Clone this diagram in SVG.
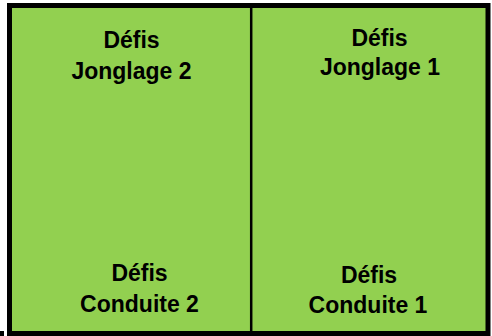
<svg xmlns="http://www.w3.org/2000/svg" width="492" height="336" viewBox="0 0 492 336">
<style>
.cell{fill:#92D050;stroke:none}
.lbl{font-family:"Liberation Sans",Arial,sans-serif;font-weight:bold;font-size:23px;fill:#000;text-anchor:middle}
</style>
<rect width="492" height="336" fill="#ffffff"/>
<g id="board">
<rect class="cell" x="9.5" y="5.5" width="478.5" height="328"/>
</g>
<g id="connectors">
<rect x="9.5" y="5.5" width="478.5" height="328" fill="none" stroke="#000" stroke-width="5"/>
<line x1="251.2" y1="5.5" x2="251.2" y2="333.5" stroke="#000" stroke-width="2.5"/>
<rect x="0" y="331" width="4" height="5" fill="#000"/>
</g>
<g id="jonglage2">
<text class="lbl" x="131.5" y="48">Défis</text>
<text class="lbl" x="131.5" y="79">Jonglage 2</text>
</g>
<g id="jonglage1">
<text class="lbl" x="379.5" y="45.5">Défis</text>
<text class="lbl" x="380" y="74.5">Jonglage 1</text>
</g>
<g id="conduite2">
<text class="lbl" x="139.5" y="281">Défis</text>
<text class="lbl" x="139.5" y="311.5">Conduite 2</text>
</g>
<g id="conduite1">
<text class="lbl" x="369" y="283">Défis</text>
<text class="lbl" x="368" y="313">Conduite 1</text>
</g>
</svg>
